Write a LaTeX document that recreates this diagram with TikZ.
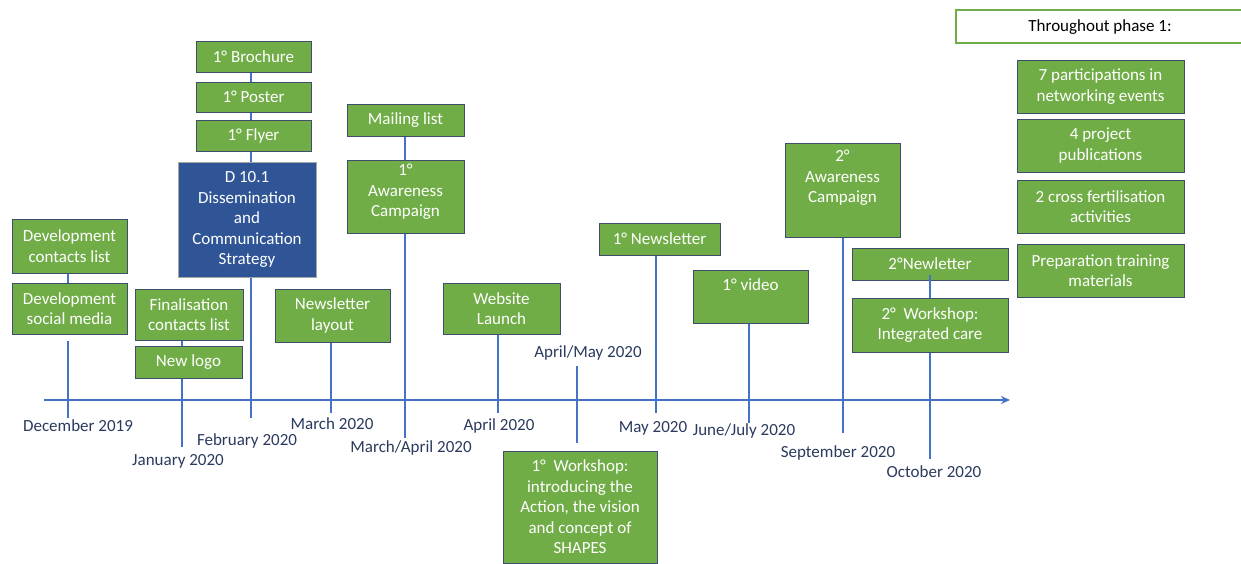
\documentclass[tikz,border=0pt]{standalone}
\usepackage{fontspec}
\setmainfont{Carlito}
\usetikzlibrary{arrows.meta}
\definecolor{gfill}{HTML}{70AD47}
\definecolor{gedge}{HTML}{3E4E6C}
\definecolor{bfill}{HTML}{2F5597}
\definecolor{lineblue}{HTML}{4472C4}
\definecolor{datecol}{HTML}{2B3A5E}
\tikzset{
  fnt/.style={font=\fontsize{17}{20.5}\selectfont},
  gbox/.style={fnt, draw=gedge, line width=1pt, fill=gfill, text=white, align=center, inner sep=0pt},
  bbox/.style={fnt, draw=gray!70, line width=1pt, fill=bfill, text=white, align=center, inner sep=0pt},
  wtext/.style={fnt, text=white, align=center, inner sep=0pt},
  datelbl/.style={fnt, text=datecol, inner sep=0pt},
  conn/.style={draw=lineblue, line width=2pt},
}
\begin{document}
\begin{tikzpicture}[x=1pt, y=-1pt]
\useasboundingbox (0,0) rectangle (1241,563);
\clip (0,0) rectangle (1241,563);
\fill[white] (0,0) rectangle (1241,563);

% ---------- boxes ----------
\node[gbox, minimum width=115, minimum height=31] (broch) at (253.5,56.5) {1° Brochure};
\node[gbox, minimum width=115, minimum height=30] (poster) at (253.5,97) {1° Poster};
\node[gbox, minimum width=115, minimum height=31] (flyer) at (253.5,135.5) {1° Flyer};
\node[bbox, minimum width=138, minimum height=115] (d101) at (247,219.5) {D 10.1\\Dissemination\\and\\Communication\\Strategy};
\node[gbox, minimum width=117, minimum height=32] (mail) at (405.5,120) {Mailing list};
\node[gbox, minimum width=117, minimum height=73] (aw1) at (405.5,196.5) {};
\node[wtext] (aw1t) at (405.5,192) {1°\\Awareness\\Campaign};
\node[gbox, minimum width=115, minimum height=54] (devc) at (69.5,246) {Development\\contacts list};
\node[gbox, minimum width=115, minimum height=51] (devs) at (69.5,308.5) {Development\\social media};
\node[gbox, minimum width=108, minimum height=51] (fin) at (189,314.5) {Finalisation\\contacts list};
\node[gbox, minimum width=107, minimum height=32] (logo) at (188.5,362) {New logo};
\node[gbox, minimum width=115, minimum height=53] (nl) at (332.5,315.5) {Newsletter\\layout};
\node[gbox, minimum width=117, minimum height=51] (web) at (501.5,308.5) {Website\\Launch};
\node[gbox, minimum width=154, minimum height=112] (ws1) at (580,507) {1°~ Workshop:\\introducing the\\Action, the vision\\and concept of\\SHAPES};
\node[gbox, minimum width=121, minimum height=32] (news1) at (659.5,239) {1° Newsletter};
\node[gbox, minimum width=115, minimum height=53] (vid) at (750.5,296.5) {};
\node[wtext] (vidt) at (750.5,285) {1° video};
\node[gbox, minimum width=115, minimum height=94] (aw2) at (842.5,190) {};
\node[wtext] (aw2t) at (842.5,178) {2°\\Awareness\\Campaign};
\node[gbox, minimum width=156, minimum height=32] (nl2) at (930,264) {2°Newletter};
\node[gbox, minimum width=156, minimum height=54] (ws2) at (930,325) {2°~ Workshop:\\Integrated care};

\node[fnt, draw=gfill, line width=2pt, fill=white, text=black, minimum width=300, minimum height=33, inner sep=0pt] (tp) at (1106,26.5) {};
\node[fnt, text=black, inner sep=0pt] (tpt) at (1100,27) {Throughout phase 1:};
\node[gbox, minimum width=167, minimum height=53] (p7) at (1100.5,86.5) {7 participations in\\networking events};
\node[gbox, minimum width=167, minimum height=53] (pub4) at (1100.5,145.5) {4 project\\publications};
\node[gbox, minimum width=167, minimum height=53] (cross) at (1100.5,206.5) {2 cross fertilisation\\activities};
\node[gbox, minimum width=167, minimum height=53] (prep) at (1100.5,270.5) {Preparation training\\materials};

% ---------- axis ----------
\coordinate (ax0) at (44,400);
\coordinate (ax1) at (1010,400);
\draw[conn, -{Stealth[length=9pt,width=8pt]}] (ax0) -- (ax1);

% ---------- tick ends ----------
\coordinate (decA) at (68,341);
\coordinate (decB) at (68,418);
\coordinate (janB) at (182,447);
\coordinate (febB) at (251,418);
\coordinate (marB) at (331,413);
\coordinate (maB) at (405,438);
\coordinate (aprB) at (498,413);
\coordinate (amA) at (577,366);
\coordinate (amB) at (577,443);
\coordinate (mayB) at (656,413);
\coordinate (jjB) at (749,423);
\coordinate (sepB) at (843,433);
\coordinate (octA) at (930,275);
\coordinate (octB) at (930,459);

% ---------- connectors ----------
\draw[conn] (devc.south -| decA) -- (devs.north -| decA);
\draw[conn] (decA) -- (decB);
\draw[conn] (fin.south -| janB) -- (logo.north -| janB);
\draw[conn] (logo.south -| janB) -- (janB);
\draw[conn] (broch.south -| febB) -- (poster.north -| febB);
\draw[conn] (poster.south -| febB) -- (flyer.north -| febB);
\draw[conn] (flyer.south -| febB) -- (d101.north -| febB);
\draw[conn] (d101.south -| febB) -- (febB);
\draw[conn] (nl.south -| marB) -- (marB);
\draw[conn] (mail.south -| maB) -- (aw1.north -| maB);
\draw[conn] (aw1.south -| maB) -- (maB);
\draw[conn] (web.south -| aprB) -- (aprB);
\draw[conn] (amA) -- (amB);
\draw[conn] (news1.south -| mayB) -- (mayB);
\draw[conn] (vid.south -| jjB) -- (jjB);
\draw[conn] (aw2.south -| sepB) -- (sepB);
\draw[conn] (octA) -- (ws2.north -| octA);
\draw[conn] (ws2.south -| octA) -- (octB);

% ---------- date labels ----------
\node[datelbl] (lDec) at (78,426) {December 2019};
\node[datelbl] (lJan) at (178,461) {January 2020};
\node[datelbl] (lFeb) at (247,441) {February 2020};
\node[datelbl] (lMar) at (332,424) {March 2020};
\node[datelbl] (lMA) at (411,448) {March/April 2020};
\node[datelbl] (lApr) at (499,426) {April 2020};
\node[datelbl] (lAM) at (588,353) {April/May 2020};
\node[datelbl] (lMay) at (653,428) {May 2020};
\node[datelbl] (lJJ) at (744,431) {June/July 2020};
\node[datelbl] (lSep) at (838,453) {September 2020};
\node[datelbl] (lOct) at (934,472) {October 2020};
\end{tikzpicture}
\end{document}
